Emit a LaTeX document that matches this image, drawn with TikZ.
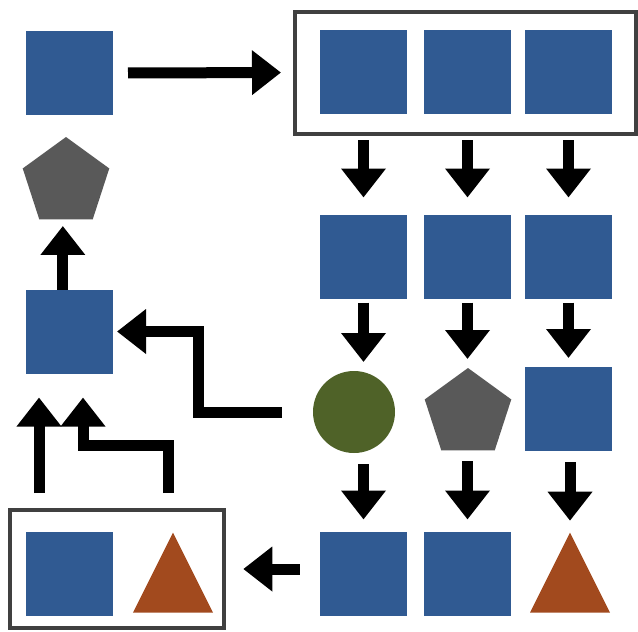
\documentclass[tikz,border=0pt]{standalone}
\usepackage{tikz}
\usepackage{xcolor}
\usetikzlibrary{shapes.geometric, arrows.meta}
\definecolor{BlockBlue}{HTML}{305A92}
\definecolor{SlateGray}{HTML}{595959}
\definecolor{MossGreen}{HTML}{4F6228}
\definecolor{Rust}{HTML}{A24A1E}
\definecolor{FrameGray}{HTML}{404040}

\tikzset{
    sq/.style={rectangle, fill=BlockBlue, minimum width=2.61cm, minimum height=2.52cm, inner sep=0pt, outer sep=0pt},
    pent/.style={regular polygon, regular polygon sides=5, fill=SlateGray, minimum size=2.73cm, inner sep=0pt, outer sep=0pt},
    disc/.style={circle, fill=MossGreen, minimum size=2.46cm, inner sep=0pt, outer sep=0pt},
    tri/.style={isosceles triangle, isosceles triangle stretches, shape border rotate=90, fill=Rust,
                minimum width=2.4cm, minimum height=2.4cm, inner sep=0pt, outer sep=0pt},
    groupbox/.style={rectangle, draw=FrameGray, line width=0.12cm, inner sep=0pt, outer sep=0pt},
    flow/.style={-{Triangle[width=1.29cm, length=0.87cm]}, line width=0.33cm},
}

\begin{document}
\begin{tikzpicture}[x=0.03cm, y=-0.03cm]
    \useasboundingbox (0,0) rectangle (638,631);

    % === Top row: single block feeding the boxed triple ===
    \node[sq] (s0) at (69.5,73) {};
    \node[groupbox, minimum width=10.23cm, minimum height=3.66cm] (topbox) at (465.5,72.5) {};
    \node[sq] (t1) at (363.5,71.5) {};
    \node[sq] (t2) at (467.5,71.5) {};
    \node[sq] (t3) at (568.5,71.5) {};

    % === Right columns ===
    \node[sq] (m1) at (363.5,256.5) {};
    \node[sq] (m2) at (467.5,256.5) {};
    \node[sq] (m3) at (568.5,256.5) {};

    \node[disc] (c1) at (354,412) {};
    \node[pent] (c2) at (468,413.5) {};
    \node[sq]   (c3) at (568.5,409) {};

    \node[sq]  (b1) at (363.5,573.5) {};
    \node[sq]  (b2) at (467.5,573.5) {};
    \node[tri] (b3) at (570,588) {};

    % === Left column ===
    \node[pent] (l1) at (66,182.5) {};
    \node[sq]   (l2) at (69.5,331.5) {};

    % Boxed pair at the bottom
    \node[groupbox, minimum width=6.41cm, minimum height=3.54cm] (panel) at (116.75,569) {};
    \node[sq]  (p1) at (69.5,573.5) {};
    \node[tri] (p2) at (173,588) {};

    % Free ends of the bent connectors
    \coordinate (knee) at (198,412);
    \coordinate (lift1) at (39,493);
    \coordinate (lift2) at (168,493);
    \coordinate (hook) at (83,445);

    % === Arrows ===
    \draw[flow, shorten <=0.45cm, shorten >=0.42cm] (s0.east) -- (topbox.west);

    \foreach \u/\v in {t1/m1, t2/m2, t3/m3}
        \draw[flow, shorten <=0.8cm, shorten >=0.51cm] (\u.south) -- (\v.north);

    \foreach \u/\v in {m1/c1, m2/c2, m3/c3}
        \draw[flow, shorten <=0.12cm, shorten >=0.27cm] (\u.south) -- (\u.south |- \v.north);

    \foreach \u/\v in {c1/b1, c2/b2, c3/b3}
        \draw[flow, shorten <=0.33cm, shorten >=0.36cm] (\v.north |- \u.south) -- (\v.north);

    \draw[flow, shorten <=0.6cm, shorten >=0.59cm] (b1.west |- panel.east) -- (panel.east);

    % Bent arrow back to the left column
    \draw[flow, shorten <=0.93cm, shorten >=0.12cm] (c1.west) -- (knee) |- (l2.east);

    % Up from the boxed pair
    \draw[flow, shorten >=0.72cm] (lift1) -- (lift1 |- l2.south);
    \draw[flow, shorten >=0.72cm] (lift2) |- (hook) -- (hook |- l2.south);

    \draw[flow, shorten >=0.2cm] ([xshift=-0.2cm]l2.north) -- ([xshift=-0.2cm]l2.north |- l1.south);

\end{tikzpicture}
\end{document}
